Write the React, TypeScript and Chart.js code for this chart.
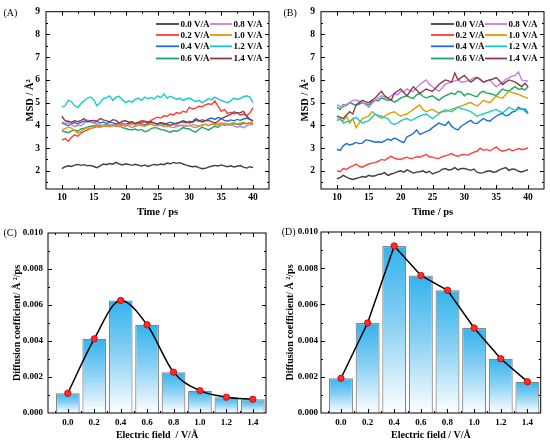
import { useEffect, useRef } from "react";
import {
  Chart,
  registerables,
  type ChartConfiguration,
  type Plugin,
  type ScriptableContext,
} from "chart.js";

Chart.register(...registerables);

const SERIF = "'Liberation Serif', 'Times New Roman', serif";

// time axis, 0.5 ps sampling from 10 to 40 ps
const TIME_PS = Array.from({ length: 61 }, (_, i) => 10 + i * 0.5);

const FIELD_LABELS = ["0.0 V/Å", "0.2 V/Å", "0.4 V/Å", "0.6 V/Å", "0.8 V/Å", "1.0 V/Å", "1.2 V/Å", "1.4 V/Å"];
const FIELD_COLORS = ["#404040", "#ff3c3c", "#1a6ee0", "#1aa860", "#c77df0", "#e09b00", "#17cccc", "#8a3e3e"];

// panel (A)
const MSD_A_00 = [
  2.10, 2.18, 2.22, 2.19, 2.25, 2.28, 2.24, 2.27, 2.22, 2.24,
  2.19, 2.14, 2.22, 2.30, 2.27, 2.32, 2.29, 2.37, 2.30, 2.26,
  2.31, 2.28, 2.24, 2.29, 2.25, 2.21, 2.26, 2.19, 2.24, 2.28,
  2.25, 2.30, 2.27, 2.34, 2.31, 2.37, 2.33, 2.36, 2.30, 2.25,
  2.21, 2.18, 2.20, 2.14, 2.09, 2.11, 2.16, 2.20, 2.24, 2.21,
  2.26, 2.22, 2.18, 2.22, 2.17, 2.20, 2.23, 2.16, 2.12, 2.18,
  2.14,
];
const MSD_A_02 = [
  3.35, 3.42, 3.30, 3.48, 3.58, 3.52, 3.66, 3.74, 3.80, 3.86,
  3.90, 3.95, 3.92, 4.00, 3.96, 4.02, 3.98, 4.04, 4.00, 4.06,
  4.02, 4.08, 4.12, 4.06, 4.14, 4.10, 4.16, 4.12, 4.22, 4.30,
  4.36, 4.32, 4.42, 4.40, 4.50, 4.46, 4.56, 4.52, 4.62, 4.58,
  4.80, 4.72, 4.76, 4.84, 4.82, 4.90, 4.95, 4.92, 5.08, 4.85,
  4.62, 4.70, 4.52, 4.58, 4.50, 4.56, 4.45, 4.50, 4.42, 4.55,
  4.78,
];
const MSD_A_04 = [
  4.10, 4.05, 3.98, 4.08, 4.12, 4.06, 4.14, 4.18, 4.22, 4.16,
  4.12, 4.18, 4.10, 4.15, 4.08, 4.14, 4.11, 4.06, 4.12, 4.09,
  4.05, 4.10, 4.14, 4.08, 4.12, 4.06, 4.02, 4.08, 4.13, 4.10,
  4.06, 4.11, 4.04, 4.09, 4.14, 4.10, 4.06, 4.12, 4.15, 4.10,
  4.18, 4.14, 4.22, 4.18, 4.25, 4.20, 4.28, 4.32, 4.26, 4.34,
  4.30, 4.22, 4.18, 4.24, 4.20, 4.26, 4.22, 4.28, 4.32, 4.25,
  4.20,
];
const MSD_A_06 = [
  3.75, 3.72, 3.68, 3.76, 3.80, 3.74, 3.84, 3.88, 3.92, 3.96,
  3.98, 4.02, 3.96, 4.00, 4.04, 3.98, 4.02, 3.95, 4.00, 3.90,
  3.86, 3.82, 3.80, 3.84, 3.78, 3.82, 3.72, 3.76, 3.86, 3.90,
  3.88, 3.82, 3.80, 3.74, 3.70, 3.76, 3.74, 3.80, 3.90, 3.86,
  3.84, 3.76, 3.70, 3.82, 3.92, 3.86, 3.80, 3.88, 3.96, 3.92,
  4.04, 4.00, 4.06, 4.02, 4.08, 4.05, 4.03, 4.10, 4.06, 4.12,
  4.02,
];
const MSD_A_08 = [
  4.15, 4.08, 4.12, 4.02, 3.95, 4.00, 3.98, 4.10, 4.20, 4.14,
  4.10, 4.06, 4.02, 3.98, 4.00, 3.94, 3.97, 4.02, 3.96, 4.04,
  4.06, 3.98, 3.90, 3.96, 4.00, 4.04, 3.98, 4.02, 4.06, 3.98,
  4.05, 4.00, 3.94, 3.98, 3.92, 3.90, 3.95, 3.98, 4.02, 3.96,
  4.00, 3.94, 3.90, 3.96, 4.00, 4.04, 3.98, 4.06, 4.02, 4.08,
  4.10, 4.05, 4.00, 4.04, 3.98, 3.92, 3.96, 3.90, 3.98, 4.04,
  4.05,
];
const MSD_A_10 = [
  3.80, 3.86, 3.92, 3.88, 3.76, 3.66, 3.72, 3.84, 3.90, 3.86,
  3.94, 3.98, 3.92, 3.96, 4.00, 3.95, 4.02, 3.98, 3.94, 4.00,
  3.96, 4.02, 4.06, 4.00, 4.04, 3.98, 3.96, 4.02, 4.06, 4.00,
  3.98, 4.04, 3.98, 3.94, 4.00, 4.04, 3.98, 4.02, 3.96, 4.00,
  3.98, 4.04, 4.00, 3.96, 4.02, 4.06, 4.00, 4.04, 4.08, 4.02,
  4.06, 4.10, 4.04, 4.08, 4.12, 4.06, 4.10, 4.14, 4.08, 4.12,
  4.15,
];
const MSD_A_12 = [
  4.80, 4.86, 5.10, 5.04, 4.86, 4.78, 4.96, 5.08, 5.20, 5.25,
  5.12, 4.86, 5.00, 5.18, 5.22, 5.30, 5.10, 5.24, 5.28, 5.12,
  5.00, 5.08, 5.02, 5.14, 5.20, 5.10, 5.24, 5.18, 5.22, 5.16,
  5.30, 5.22, 5.38, 5.20, 5.28, 5.22, 5.14, 5.20, 5.10, 5.16,
  5.20, 5.12, 5.04, 5.10, 5.00, 5.08, 5.18, 5.12, 5.24, 5.16,
  5.10, 5.04, 5.00, 5.08, 5.20, 5.14, 5.18, 5.26, 5.30, 5.24,
  5.00,
];
const MSD_A_14 = [
  4.40, 4.20, 4.18, 4.14, 4.20, 4.16, 4.22, 4.30, 4.15, 4.20,
  4.22, 4.18, 4.30, 4.24, 4.20, 4.16, 4.25, 4.22, 4.10, 4.18,
  4.20, 4.14, 4.16, 4.08, 4.12, 4.20, 4.18, 4.14, 4.16, 4.10,
  4.05, 4.12, 4.10, 4.04, 4.00, 4.06, 4.10, 4.14, 4.20, 4.16,
  4.10, 4.16, 4.30, 4.22, 4.15, 4.20, 4.22, 4.16, 4.10, 4.18,
  4.30, 4.36, 4.42, 4.48, 4.60, 4.54, 4.56, 4.62, 4.40, 4.28,
  4.20,
];

// panel (B)
const MSD_B_00 = [
  1.65, 1.70, 1.80, 1.72, 1.66, 1.62, 1.66, 1.70, 1.75, 1.72,
  1.80, 1.76, 1.78, 1.84, 1.86, 1.92, 1.80, 1.86, 1.90, 1.96,
  2.00, 1.94, 2.04, 1.98, 1.90, 1.94, 1.96, 2.00, 1.92, 1.98,
  1.86, 1.92, 1.96, 2.06, 2.10, 2.04, 2.06, 2.14, 2.04, 2.10,
  2.10, 2.06, 2.02, 2.08, 1.94, 1.90, 1.92, 1.98, 2.00, 1.94,
  1.96, 2.04, 2.10, 2.14, 2.02, 2.08, 2.06, 1.98, 1.95, 2.00,
  2.05,
];
const MSD_B_02 = [
  2.00, 1.96, 2.10, 2.06, 2.16, 2.22, 2.30, 2.20, 2.16, 2.24,
  2.30, 2.34, 2.36, 2.42, 2.50, 2.46, 2.56, 2.64, 2.56, 2.52,
  2.50, 2.56, 2.60, 2.54, 2.56, 2.62, 2.60, 2.66, 2.72, 2.62,
  2.60, 2.56, 2.54, 2.62, 2.66, 2.70, 2.76, 2.68, 2.64, 2.70,
  2.72, 2.68, 2.76, 2.82, 2.86, 3.00, 2.90, 2.94, 2.88, 2.96,
  3.05, 2.92, 2.86, 2.90, 2.96, 2.88, 2.92, 2.98, 2.94, 2.96,
  3.02,
];
const MSD_B_04 = [
  2.95, 2.90, 3.10, 3.20, 3.14, 3.18, 3.25, 3.20, 3.22, 3.36,
  3.34, 3.30, 3.26, 3.28, 3.25, 3.32, 3.40, 3.34, 3.44, 3.38,
  3.30, 3.24, 3.50, 3.56, 3.64, 3.80, 3.60, 3.66, 3.72, 3.78,
  3.90, 4.00, 4.10, 4.04, 4.00, 4.16, 3.96, 3.86, 3.80, 3.96,
  4.05, 4.14, 4.22, 4.10, 4.08, 4.20, 4.30, 4.22, 4.18, 4.30,
  4.40, 4.48, 4.52, 4.42, 4.46, 4.58, 4.62, 4.80, 4.70, 4.72,
  4.55,
];
const MSD_B_06 = [
  4.80, 4.70, 4.92, 4.88, 5.00, 4.94, 4.88, 4.94, 5.00, 4.96,
  4.90, 5.04, 5.10, 5.08, 5.20, 5.16, 5.10, 5.14, 5.02, 5.10,
  5.20, 5.26, 5.30, 5.22, 5.18, 5.34, 5.40, 5.28, 5.20, 5.26,
  5.30, 5.20, 5.10, 5.22, 5.30, 5.36, 5.42, 5.36, 5.50, 5.46,
  5.30, 5.40, 5.36, 5.30, 5.26, 5.44, 5.50, 5.42, 5.40, 5.36,
  5.30, 5.46, 5.60, 5.54, 5.50, 5.62, 5.70, 5.58, 5.62, 5.56,
  5.70,
];
const MSD_B_08 = [
  4.90, 4.84, 4.80, 4.92, 5.00, 5.10, 5.12, 5.06, 5.00, 4.92,
  4.80, 4.96, 5.10, 5.20, 5.30, 5.24, 5.20, 5.30, 5.40, 5.34,
  5.50, 5.46, 5.60, 5.52, 5.50, 5.66, 5.80, 5.90, 6.00, 5.80,
  5.70, 5.60, 5.50, 5.64, 5.80, 5.86, 5.90, 5.96, 6.00, 5.90,
  5.92, 5.96, 6.00, 6.10, 6.12, 6.02, 5.90, 5.96, 6.00, 5.84,
  5.70, 5.80, 5.90, 6.02, 6.10, 6.16, 6.20, 6.35, 6.00, 5.96,
  5.95,
];
const MSD_B_10 = [
  4.30, 4.24, 4.20, 4.40, 4.10, 4.30, 3.90, 4.10, 4.30, 4.36,
  4.40, 4.60, 4.50, 4.38, 4.30, 4.40, 4.50, 4.56, 4.60, 4.50,
  4.40, 4.46, 4.50, 4.60, 4.70, 4.80, 4.90, 4.70, 4.60, 4.66,
  4.70, 4.62, 4.55, 4.62, 4.60, 4.66, 4.70, 4.76, 4.80, 4.86,
  4.90, 4.96, 5.00, 4.92, 4.85, 4.96, 5.10, 5.04, 5.00, 5.14,
  5.30, 5.22, 5.20, 5.36, 5.50, 5.44, 5.40, 5.36, 5.30, 5.24,
  5.20,
];
const MSD_B_12 = [
  4.20, 4.30, 4.10, 4.16, 4.20, 4.28, 4.35, 4.22, 4.10, 4.16,
  4.20, 4.36, 4.50, 4.44, 4.40, 4.34, 4.30, 4.10, 4.05, 4.10,
  4.20, 4.26, 4.30, 4.22, 4.25, 4.34, 4.40, 4.46, 4.50, 4.40,
  4.30, 4.40, 4.50, 4.60, 4.70, 4.64, 4.60, 4.70, 4.80, 4.74,
  4.70, 4.66, 4.60, 4.50, 4.40, 4.46, 4.50, 4.56, 4.60, 4.66,
  4.70, 4.62, 4.55, 4.66, 4.80, 4.72, 4.65, 4.70, 4.75, 4.62,
  4.50,
];
const MSD_B_14 = [
  4.40, 4.36, 4.30, 4.46, 4.60, 4.50, 4.90, 5.00, 5.10, 5.04,
  5.00, 5.10, 5.20, 5.36, 5.50, 5.30, 5.20, 5.10, 5.40, 5.50,
  5.60, 5.44, 5.30, 5.50, 5.70, 5.56, 5.40, 5.50, 5.60, 5.54,
  5.50, 5.64, 5.80, 5.90, 6.00, 5.96, 5.90, 6.30, 6.00, 6.10,
  6.20, 6.04, 5.90, 6.00, 6.10, 6.02, 5.90, 5.96, 6.00, 6.04,
  6.10, 5.96, 5.80, 5.90, 6.00, 5.96, 5.90, 5.80, 5.70, 5.85,
  5.70,
];

const MSD_A = [MSD_A_00, MSD_A_02, MSD_A_04, MSD_A_06, MSD_A_08, MSD_A_10, MSD_A_12, MSD_A_14];
const MSD_B = [MSD_B_00, MSD_B_02, MSD_B_04, MSD_B_06, MSD_B_08, MSD_B_10, MSD_B_12, MSD_B_14];

// panels (C) and (D)
const FIELD_VALUES = [0, 0.2, 0.4, 0.6, 0.8, 1.0, 1.2, 1.4];
const DIFF_C = [0.0011, 0.00412, 0.00625, 0.0049, 0.00227, 0.00124, 0.00088, 0.00076];
const DIFF_D = [0.00192, 0.00497, 0.00923, 0.0076, 0.00678, 0.0047, 0.003, 0.00173];

const MSD_X_TICKS = [10, 15, 20, 25, 30, 35, 40];
const MSD_Y_TICKS = [2, 3, 4, 5, 6, 7, 8, 9];
const DIFF_Y_TICKS = [0, 0.002, 0.004, 0.006, 0.008, 0.01];

const LEGEND_ROWS = [24, 35, 46.3, 58.5];

type Frame = {
  xMajor: number[];
  yMajor: number[];
  label: string;
  labelX: number;
  labelY: number;
};

function minorsOf(major: number[], min: number, max: number) {
  const step = major[1] - major[0];
  const out: number[] = [];
  for (let v = major[0] - step / 2; v <= max + 1e-9; v += step) {
    if (v >= min - 1e-9) out.push(v);
  }
  return out;
}

// box around the plot with inward ticks on all four sides, plus the panel letter
function framePlugin(f: Frame): Plugin {
  return {
    id: "frame",
    afterDraw(chart) {
      const { ctx, chartArea: a } = chart;
      const x = chart.scales.x;
      const y = chart.scales.y;
      ctx.save();
      ctx.strokeStyle = "#000";
      ctx.lineWidth = 1;
      ctx.strokeRect(a.left, a.top, a.right - a.left, a.bottom - a.top);
      ctx.beginPath();
      const xTick = (v: number, len: number) => {
        const p = Math.round(x.getPixelForValue(v)) + 0.5;
        if (p < a.left + 1 || p > a.right - 1) return;
        ctx.moveTo(p, a.bottom);
        ctx.lineTo(p, a.bottom - len);
        ctx.moveTo(p, a.top);
        ctx.lineTo(p, a.top + len);
      };
      const yTick = (v: number, len: number) => {
        const p = Math.round(y.getPixelForValue(v)) + 0.5;
        if (p < a.top + 1 || p > a.bottom - 1) return;
        ctx.moveTo(a.left, p);
        ctx.lineTo(a.left + len, p);
        ctx.moveTo(a.right, p);
        ctx.lineTo(a.right - len, p);
      };
      f.xMajor.forEach((v) => xTick(v, 4));
      minorsOf(f.xMajor, x.min, x.max).forEach((v) => xTick(v, 2));
      f.yMajor.forEach((v) => yTick(v, 4));
      minorsOf(f.yMajor, y.min, y.max).forEach((v) => yTick(v, 2));
      ctx.stroke();

      ctx.fillStyle = "#000";
      ctx.font = `10px ${SERIF}`;
      ctx.textBaseline = "middle";
      ctx.fillText(f.label, f.labelX, f.labelY);
      ctx.restore();
    },
  };
}

const msdLegend: Plugin = {
  id: "msdLegend",
  afterDraw(chart) {
    const { ctx } = chart;
    ctx.save();
    ctx.font = `bold 9px ${SERIF}`;
    ctx.textBaseline = "middle";
    chart.data.datasets.forEach((ds, i) => {
      const col = Math.floor(i / 4);
      const yy = LEGEND_ROWS[i % 4];
      const x0 = col === 0 ? 156 : 210;
      const x1 = col === 0 ? 179 : 232;
      ctx.strokeStyle = ds.borderColor as string;
      ctx.lineWidth = 1.8;
      ctx.beginPath();
      ctx.moveTo(x0, yy);
      ctx.lineTo(x1, yy);
      ctx.stroke();
      ctx.fillStyle = "#000";
      ctx.fillText(ds.label ?? "", x1 + 1.5, yy + 0.5);
    });
    ctx.restore();
  },
};

type Layout = {
  yWidth: number;
  xHeight: number;
  top: number;
  right: number;
  yTickPad: number;
  yTitlePad: number;
  xTickPad: number;
  xTitlePad: number;
};

function msdConfig(series: number[][], label: string, labelX: number): ChartConfiguration<"line"> {
  const lay: Layout = { yWidth: 46, xHeight: 33, top: 9, right: 6, yTickPad: 6, yTitlePad: 23.5, xTickPad: 3, xTitlePad: 3.5 };
  return {
    type: "line",
    data: {
      datasets: series.map((vals, i) => ({
        label: FIELD_LABELS[i],
        data: TIME_PS.map((t, j) => ({ x: t, y: vals[j] })),
        borderColor: FIELD_COLORS[i],
        borderWidth: 1.4,
        pointRadius: 0,
        tension: 0,
        order: 7 - i,
      })),
    },
    options: baseOptions(lay, {
      xMin: 7.5,
      xMax: 42.5,
      yMin: 1.2,
      yMax: 9,
      xTicks: MSD_X_TICKS,
      yTicks: MSD_Y_TICKS,
      xFmt: (v) => String(v),
      yFmt: (v) => String(v),
      xTitle: "Time / ps",
      yTitle: "MSD / Å²",
      tickSize: 9.5,
      titleSize: 10.5,
    }),
    plugins: [framePlugin({ xMajor: MSD_X_TICKS, yMajor: MSD_Y_TICKS, label, labelX, labelY: 13.5 }), msdLegend],
  };
}

type AxisSpec = {
  xMin: number;
  xMax: number;
  yMin: number;
  yMax: number;
  xTicks: number[];
  yTicks: number[];
  xFmt: (v: number) => string;
  yFmt: (v: number) => string;
  xTitle: string;
  yTitle: string;
  tickSize: number;
  titleSize: number;
};

function baseOptions(lay: Layout, s: AxisSpec): any {
  const tickFont = { family: SERIF, size: s.tickSize, weight: "bold" as const };
  const titleFont = { family: SERIF, size: s.titleSize, weight: "bold" as const };
  return {
    animation: false,
    responsive: true,
    maintainAspectRatio: false,
    events: [],
    layout: { padding: { top: lay.top, right: lay.right, left: 0, bottom: 0 } },
    plugins: { legend: { display: false }, tooltip: { enabled: false } },
    scales: {
      x: {
        type: "linear",
        min: s.xMin,
        max: s.xMax,
        offset: false,
        afterBuildTicks: (sc: any) => {
          sc.ticks = s.xTicks.map((value) => ({ value }));
        },
        afterFit: (sc: any) => {
          sc.height = lay.xHeight;
        },
        grid: { display: false, drawTicks: false, offset: false },
        border: { display: false },
        ticks: {
          padding: lay.xTickPad,
          color: "#000",
          font: tickFont,
          autoSkip: false,
          maxRotation: 0,
          callback: (v: number) => s.xFmt(Number(v)),
        },
        title: { display: true, text: s.xTitle, color: "#000", font: titleFont, padding: { top: 0, bottom: lay.xTitlePad } },
      },
      y: {
        type: "linear",
        min: s.yMin,
        max: s.yMax,
        afterBuildTicks: (sc: any) => {
          sc.ticks = s.yTicks.map((value) => ({ value }));
        },
        afterFit: (sc: any) => {
          sc.width = lay.yWidth;
        },
        grid: { display: false, drawTicks: false },
        border: { display: false },
        ticks: {
          padding: lay.yTickPad,
          color: "#000",
          font: tickFont,
          autoSkip: false,
          callback: (v: number) => s.yFmt(Number(v)),
        },
        title: { display: true, text: s.yTitle, color: "#000", font: titleFont, padding: { top: lay.yTitlePad, bottom: 0 } },
      },
    },
  };
}

function barFill(c: ScriptableContext<"bar">) {
  const chart = c.chart;
  const y = chart.scales.y;
  const raw = c.raw as { y: number } | undefined;
  if (!y || !raw) return "#7fcdf3";
  const top = y.getPixelForValue(raw.y);
  const base = y.getPixelForValue(0);
  if (!Number.isFinite(top) || !Number.isFinite(base) || base - top < 1) return "#7fcdf3";
  const g = chart.ctx.createLinearGradient(0, top, 0, base);
  g.addColorStop(0, "#33b3ed");
  g.addColorStop(0.45, "#86cff3");
  g.addColorStop(1, "#ffffff");
  return g;
}

function diffConfig(
  vals: number[],
  smooth: boolean,
  lay: Layout,
  xTitle: string,
  label: string,
  labelX: number,
  labelY: number,
): ChartConfiguration {
  const pts = FIELD_VALUES.map((x, i) => ({ x, y: vals[i] }));
  return {
    type: "bar",
    data: {
      datasets: [
        {
          type: "line",
          data: pts,
          borderColor: "#000",
          borderWidth: 1.5,
          pointRadius: 3.2,
          pointBackgroundColor: "#ff2a2a",
          pointBorderColor: "#c80000",
          pointBorderWidth: 0.8,
          cubicInterpolationMode: smooth ? "monotone" : "default",
          tension: 0,
          order: 0,
        } as any,
        {
          type: "bar",
          data: pts,
          backgroundColor: barFill,
          borderColor: "#868686",
          borderWidth: 1.2,
          barPercentage: 0.9,
          categoryPercentage: 1,
          order: 1,
        } as any,
      ],
    },
    options: baseOptions(lay, {
      xMin: -0.15,
      xMax: 1.5,
      yMin: 0,
      yMax: 0.01,
      xTicks: FIELD_VALUES,
      yTicks: DIFF_Y_TICKS,
      xFmt: (v) => v.toFixed(1),
      yFmt: (v) => v.toFixed(3),
      xTitle,
      yTitle: "Diffusion coefficient/ Å ²/ps",
      tickSize: 9,
      titleSize: 10,
    }),
    plugins: [framePlugin({ xMajor: FIELD_VALUES, yMajor: DIFF_Y_TICKS, label, labelX, labelY })],
  };
}

function ChartBox({ config, left, top }: { config: ChartConfiguration<any>; left: number; top: number }) {
  const canvasRef = useRef<HTMLCanvasElement>(null);

  useEffect(() => {
    if (!canvasRef.current) {
      return undefined;
    }
    const chart = new Chart(canvasRef.current, config);
    return () => chart.destroy();
  }, [config]);

  return (
    <div style={{ position: "absolute", left, top, width: 275, height: 222 }}>
      <canvas ref={canvasRef} />
    </div>
  );
}

const CONFIG_A = msdConfig(MSD_A, "(A)", 3.5);
const CONFIG_B = msdConfig(MSD_B, "(B)", 8.5);
const CONFIG_C = diffConfig(
  DIFF_C,
  true,
  { yWidth: 48, xHeight: 31, top: 11, right: 9, yTickPad: 5, yTitlePad: 11, xTickPad: 4, xTitlePad: 2.7 },
  "Electric field  / V/Å",
  "(C)",
  3.5,
  11,
);
const CONFIG_D = diffConfig(
  DIFF_D,
  false,
  { yWidth: 46, xHeight: 31, top: 10, right: 9.3, yTickPad: 3, yTitlePad: 9, xTickPad: 4, xTitlePad: 2.7 },
  "Electric field / V/Å",
  "(D)",
  6.7,
  10,
);

export default function App() {
  return (
    <div style={{ position: "absolute", left: 0, top: 0, width: 550, height: 444, background: "#fff" }}>
      <ChartBox config={CONFIG_A} left={0} top={0} />
      <ChartBox config={CONFIG_B} left={275} top={0} />
      <ChartBox config={CONFIG_C} left={0} top={222} />
      <ChartBox config={CONFIG_D} left={275} top={222} />
    </div>
  );
}
